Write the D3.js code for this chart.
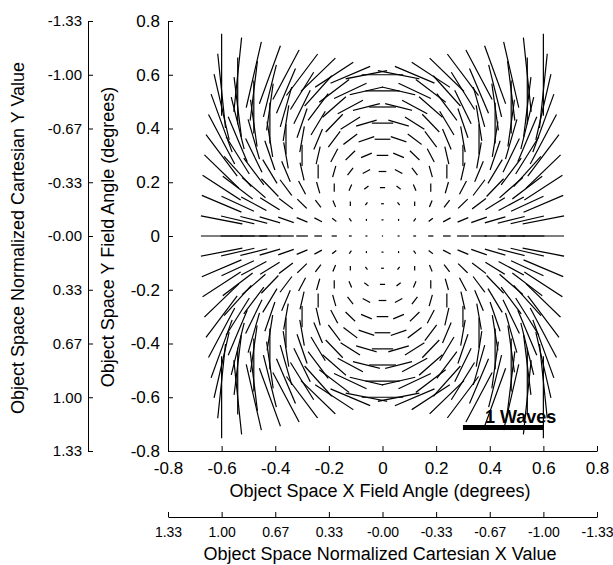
<!DOCTYPE html>
<html>
<head>
<meta charset="utf-8">
<script src="https://cdn.jsdelivr.net/npm/d3@7"></script>
<style>
  html, body { margin: 0; padding: 0; background: #fff; }
  svg { display: block; }
  text { font-family: "Liberation Sans", Arial, sans-serif; fill: #000; }
</style>
</head>
<body>
<svg id="chart" width="613" height="565"></svg>
<script>
// Field grid (degrees)
const gridX = [-0.6,-0.54,-0.48,-0.42,-0.36,-0.3,-0.24,-0.18,-0.12,-0.06,0,0.06,0.12,0.18,0.24,0.3,0.36,0.42,0.48,0.54,0.6];
const gridY = [0.6,0.54,0.48,0.42,0.36,0.3,0.24,0.18,0.12,0.06,0,-0.06,-0.12,-0.18,-0.24,-0.3,-0.36,-0.42,-0.48,-0.54,-0.6];

// Astigmatism magnitude (waves), one row per gridY value, one column per gridX value
const waveRows = [
  [1.00,0.91,0.82,0.75,0.68,0.63,0.58,0.55,0.52,0.51,0.50,0.51,0.52,0.55,0.58,0.63,0.68,0.75,0.82,0.91,1.00],
  [0.91,0.81,0.73,0.65,0.59,0.53,0.49,0.45,0.43,0.41,0.41,0.41,0.43,0.45,0.49,0.53,0.59,0.65,0.73,0.81,0.91],
  [0.82,0.73,0.64,0.57,0.50,0.45,0.40,0.37,0.34,0.33,0.32,0.33,0.34,0.37,0.40,0.45,0.50,0.57,0.64,0.73,0.82],
  [0.75,0.65,0.57,0.49,0.43,0.37,0.33,0.29,0.27,0.25,0.25,0.25,0.27,0.29,0.33,0.37,0.43,0.49,0.57,0.65,0.75],
  [0.68,0.59,0.50,0.43,0.36,0.31,0.26,0.23,0.20,0.19,0.18,0.19,0.20,0.23,0.26,0.31,0.36,0.43,0.50,0.59,0.68],
  [0.63,0.53,0.45,0.37,0.31,0.25,0.21,0.17,0.15,0.13,0.13,0.13,0.15,0.17,0.21,0.25,0.31,0.37,0.45,0.53,0.63],
  [0.58,0.49,0.40,0.33,0.26,0.21,0.16,0.13,0.10,0.09,0.08,0.09,0.10,0.13,0.16,0.21,0.26,0.33,0.40,0.49,0.58],
  [0.55,0.45,0.37,0.29,0.23,0.17,0.13,0.09,0.07,0.05,0.05,0.05,0.07,0.09,0.13,0.17,0.23,0.29,0.37,0.45,0.55],
  [0.52,0.43,0.34,0.27,0.20,0.15,0.10,0.07,0.04,0.03,0.02,0.03,0.04,0.07,0.10,0.15,0.20,0.27,0.34,0.43,0.52],
  [0.51,0.41,0.33,0.25,0.19,0.13,0.09,0.05,0.03,0.01,0.01,0.01,0.03,0.05,0.09,0.13,0.19,0.25,0.33,0.41,0.51],
  [0.50,0.41,0.32,0.25,0.18,0.13,0.08,0.05,0.02,0.01,0.00,0.01,0.02,0.05,0.08,0.13,0.18,0.25,0.32,0.41,0.50],
  [0.51,0.41,0.33,0.25,0.19,0.13,0.09,0.05,0.03,0.01,0.01,0.01,0.03,0.05,0.09,0.13,0.19,0.25,0.33,0.41,0.51],
  [0.52,0.43,0.34,0.27,0.20,0.15,0.10,0.07,0.04,0.03,0.02,0.03,0.04,0.07,0.10,0.15,0.20,0.27,0.34,0.43,0.52],
  [0.55,0.45,0.37,0.29,0.23,0.17,0.13,0.09,0.07,0.05,0.05,0.05,0.07,0.09,0.13,0.17,0.23,0.29,0.37,0.45,0.55],
  [0.58,0.49,0.40,0.33,0.26,0.21,0.16,0.13,0.10,0.09,0.08,0.09,0.10,0.13,0.16,0.21,0.26,0.33,0.40,0.49,0.58],
  [0.63,0.53,0.45,0.37,0.31,0.25,0.21,0.17,0.15,0.13,0.13,0.13,0.15,0.17,0.21,0.25,0.31,0.37,0.45,0.53,0.63],
  [0.68,0.59,0.50,0.43,0.36,0.31,0.26,0.23,0.20,0.19,0.18,0.19,0.20,0.23,0.26,0.31,0.36,0.43,0.50,0.59,0.68],
  [0.75,0.65,0.57,0.49,0.43,0.37,0.33,0.29,0.27,0.25,0.25,0.25,0.27,0.29,0.33,0.37,0.43,0.49,0.57,0.65,0.75],
  [0.82,0.73,0.64,0.57,0.50,0.45,0.40,0.37,0.34,0.33,0.32,0.33,0.34,0.37,0.40,0.45,0.50,0.57,0.64,0.73,0.82],
  [0.91,0.81,0.73,0.65,0.59,0.53,0.49,0.45,0.43,0.41,0.41,0.41,0.43,0.45,0.49,0.53,0.59,0.65,0.73,0.81,0.91],
  [1.00,0.91,0.82,0.75,0.68,0.63,0.58,0.55,0.52,0.51,0.50,0.51,0.52,0.55,0.58,0.63,0.68,0.75,0.82,0.91,1.00]
];

// Astigmatism orientation (degrees, counter-clockwise from +X), same layout as waveRows
const angleRows = [
  [90,84,77,70,62,53,44,33,23,11,0,169,157,147,136,127,118,110,103,96,90],
  [96,90,83,76,67,58,48,37,25,13,0,167,155,143,132,122,113,104,97,90,84],
  [103,97,90,82,74,64,53,41,28,14,0,166,152,139,127,116,106,98,90,83,77],
  [110,104,98,90,81,71,59,46,32,16,0,164,148,134,121,109,99,90,82,76,70],
  [118,113,106,99,90,80,67,53,37,19,0,161,143,127,113,100,90,81,74,67,62],
  [127,122,116,109,100,90,77,62,44,23,0,157,136,118,103,90,80,71,64,58,53],
  [136,132,127,121,113,103,90,74,53,28,0,152,127,106,90,77,67,59,53,48,44],
  [147,143,139,134,127,118,106,90,67,37,0,143,113,90,74,62,53,46,41,37,33],
  [157,155,152,148,143,136,127,113,90,53,0,127,90,67,53,44,37,32,28,25,23],
  [169,167,166,164,161,157,152,143,127,90,0,90,53,37,28,23,19,16,14,13,11],
  [0,0,0,0,0,0,0,0,0,0,0,0,0,0,0,0,0,0,0,0,0],
  [11,13,14,16,19,23,28,37,53,90,0,90,127,143,152,157,161,164,166,167,169],
  [23,25,28,32,37,44,53,67,90,127,0,53,90,113,127,136,143,148,152,155,157],
  [33,37,41,46,53,62,74,90,113,143,0,37,67,90,106,118,127,134,139,143,147],
  [44,48,53,59,67,77,90,106,127,152,0,28,53,74,90,103,113,121,127,132,136],
  [53,58,64,71,80,90,103,118,136,157,0,23,44,62,77,90,100,109,116,122,127],
  [62,67,74,81,90,100,113,127,143,161,0,19,37,53,67,80,90,99,106,113,118],
  [70,76,82,90,99,109,121,134,148,164,0,16,32,46,59,71,81,90,98,104,110],
  [77,83,90,98,106,116,127,139,152,166,0,14,28,41,53,64,74,82,90,97,103],
  [84,90,97,104,113,122,132,143,155,167,0,13,25,37,48,58,67,76,83,90,96],
  [90,96,103,110,118,127,136,147,157,169,0,11,23,33,44,53,62,70,77,84,90]
];

// Axis ticks
const fieldTicks = [-0.8,-0.6,-0.4,-0.2,0,0.2,0.4,0.6,0.8];
const normLabels = ["1.33","1.00","0.67","0.33","-0.00","-0.33","-0.67","-1.00","-1.33"];

// Scale bar: one wave spans this much field angle
const scaleBarWaves = 1;
const degPerWave = 0.3;
const scaleBarEnd = 0.6;

const svg = d3.select("#chart");

const x = d3.scaleLinear().domain([-0.8, 0.8]).range([168, 597]);
const y = d3.scaleLinear().domain([-0.8, 0.8]).range([451, 21]);

const fmt = d => d === 0 ? "0" : d.toFixed(1);

// Field angle axes
const xAxis = d3.axisBottom(x).tickValues(fieldTicks).tickFormat(fmt)
  .tickSizeInner(-5).tickSizeOuter(0).tickPadding(11);
const gx = svg.append("g").attr("transform", "translate(0,451)").call(xAxis);

const yAxis = d3.axisLeft(y).tickValues(fieldTicks).tickFormat(fmt)
  .tickSizeInner(-5).tickSizeOuter(0).tickPadding(8);
const gy = svg.append("g").attr("transform", "translate(168,0)").call(yAxis);

// Normalized cartesian axes share the field positions
const nxAxis = d3.axisBottom(x).tickValues(fieldTicks).tickFormat((d, i) => normLabels[i])
  .tickSizeInner(-5).tickSizeOuter(0).tickPadding(10);
const gnx = svg.append("g").attr("transform", "translate(0,517)").call(nxAxis);

const nyAxis = d3.axisLeft(y).tickValues(fieldTicks).tickFormat((d, i) => normLabels[i])
  .tickSizeInner(-5).tickSizeOuter(0).tickPadding(6);
const gny = svg.append("g").attr("transform", "translate(88,0)").call(nyAxis);

[gx, gy].forEach(g => g.selectAll("text").attr("font-size", 17).attr("font-family", null));
gnx.selectAll("text").attr("font-size", 14).attr("font-family", null);
gny.selectAll("text").attr("font-size", 15).attr("font-family", null);
// keep the last normalized X label inside the page
gnx.selectAll(".tick:last-of-type text").attr("text-anchor", "end").attr("x", 16);
[gx, gy, gnx, gny].forEach(g => {
  g.selectAll("path, line").attr("stroke", "#000").attr("stroke-width", 1);
});

// Axis titles
svg.append("text").attr("x", 380).attr("y", 497).attr("text-anchor", "middle")
  .attr("font-size", 18).text("Object Space X Field Angle (degrees)");
svg.append("text").attr("x", 380).attr("y", 560).attr("text-anchor", "middle")
  .attr("font-size", 18).text("Object Space Normalized Cartesian X Value");
svg.append("text").attr("transform", "translate(114,237) rotate(-90)").attr("text-anchor", "middle")
  .attr("font-size", 18).text("Object Space Y Field Angle (degrees)");
svg.append("text").attr("transform", "translate(24,238) rotate(-90)").attr("text-anchor", "middle")
  .attr("font-size", 18).text("Object Space Normalized Cartesian Y Value");

// Astigmatism line segments
const segs = [];
gridY.forEach((fy, r) => {
  gridX.forEach((fx, c) => {
    const w = waveRows[r][c];
    const a = angleRows[r][c] * Math.PI / 180;
    const h = w * degPerWave / 2;
    segs.push({
      x1: x(fx - h * Math.cos(a)), y1: y(fy - h * Math.sin(a)),
      x2: x(fx + h * Math.cos(a)), y2: y(fy + h * Math.sin(a))
    });
  });
});

svg.append("g").selectAll("line").data(segs).join("line")
  .attr("x1", d => d.x1).attr("y1", d => d.y1)
  .attr("x2", d => d.x2).attr("y2", d => d.y2)
  .attr("stroke", "#000").attr("stroke-width", 1.2)
  .attr("stroke-linecap", "square");

// Scale bar
svg.append("line")
  .attr("x1", x(scaleBarEnd - scaleBarWaves * degPerWave)).attr("x2", x(scaleBarEnd))
  .attr("y1", 427.5).attr("y2", 427.5)
  .attr("stroke", "#000").attr("stroke-width", 5);
svg.append("text").attr("x", 485).attr("y", 423)
  .attr("font-size", 18).attr("font-weight", "bold")
  .text(scaleBarWaves + " Waves");
</script>
</body>
</html>
